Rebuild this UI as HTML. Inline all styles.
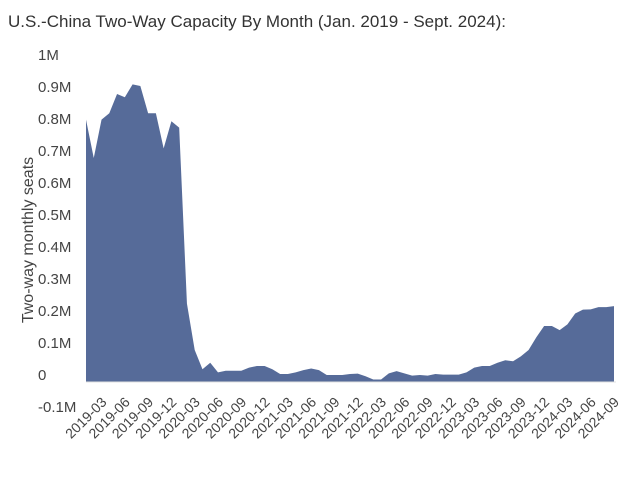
<!DOCTYPE html>
<html><head><meta charset="utf-8"><style>
body{margin:0;background:#fff;}
svg text{font-family:"Liberation Sans",Arial,sans-serif;}
</style></head><body>
<svg id="chart" width="640" height="484">
<text x="8" y="27" font-size="17" fill="#333">U.S.-China Two-Way Capacity By Month (Jan. 2019 - Sept. 2024):</text>
<text transform="translate(33,240) rotate(-90)" text-anchor="middle" font-size="16" fill="#444">Two-way monthly seats</text>
<g id="yaxis"></g>
<g id="plot"></g>
<g id="xaxis"></g>
</svg>
<script>
const startYear = 2019;
const seats = [
0.82,0.70,0.82,0.84,0.90,0.89,0.93,0.925,0.84,0.84,0.73,0.815,
0.795,0.245,0.10,0.04,0.06,0.03,0.035,0.035,0.035,0.045,0.05,0.05,
0.04,0.025,0.025,0.03,0.037,0.042,0.037,0.022,0.022,0.022,0.025,0.026,
0.018,0.008,0.008,0.027,0.034,0.027,0.02,0.022,0.02,0.025,0.023,0.023,
0.023,0.03,0.045,0.05,0.05,0.06,0.068,0.065,0.08,0.10,0.14,0.175,
0.175,0.162,0.18,0.214,0.226,0.227,0.234,0.234,0.237
];
const yTicks = [-0.1,0,0.1,0.2,0.3,0.4,0.5,0.6,0.7,0.8,0.9,1.0];
const yTickLabels = ["-0.1M","0","0.1M","0.2M","0.3M","0.4M","0.5M","0.6M","0.7M","0.8M","0.9M","1M"];

const NS="http://www.w3.org/2000/svg";
const x0=86,x1=614,yBase=382,pxPerM=320;
const xS=i=>x0+(x1-x0)*i/(seats.length-1);
const yS=v=>yBase-v*pxPerM;
function mk(t,a,p){const e=document.createElementNS(NS,t);for(const k in a)e.setAttribute(k,a[k]);p.appendChild(e);return e;}

const ya=document.getElementById('yaxis');
yTicks.forEach((v,i)=>{
  const t=mk('text',{x:38,y:yS(v)-2,'font-size':15,fill:'#444'},ya);
  
  
  t.textContent=yTickLabels[i];
});

const plot=document.getElementById('plot');
let d='M'+xS(0)+','+yS(0);
seats.forEach((v,i)=>{d+=' L'+xS(i).toFixed(2)+','+yS(v).toFixed(2);});
d+=' L'+xS(seats.length-1)+','+yS(0)+' Z';
const area=mk('path',{d:d,fill:'#566b99'},plot);


const base=mk('line',{x1:x0,x2:x1+2,y1:yBase,y2:yBase,stroke:'#e0e0e0','stroke-width':1},plot);



const xa=document.getElementById('xaxis');
for(let i=2;i<seats.length;i+=3){
  const y=startYear+Math.floor(i/12), m=(i%12)+1;
  const lab=y+'-'+String(m).padStart(2,'0');
  const x=xS(i)+6;
  const t=mk('text',{x:x,y:403,'font-size':14,fill:'#444','text-anchor':'end',transform:'rotate(-45 '+x+' 403)'},xa);
  
  
  t.textContent=lab;
}
</script>
</body></html>
